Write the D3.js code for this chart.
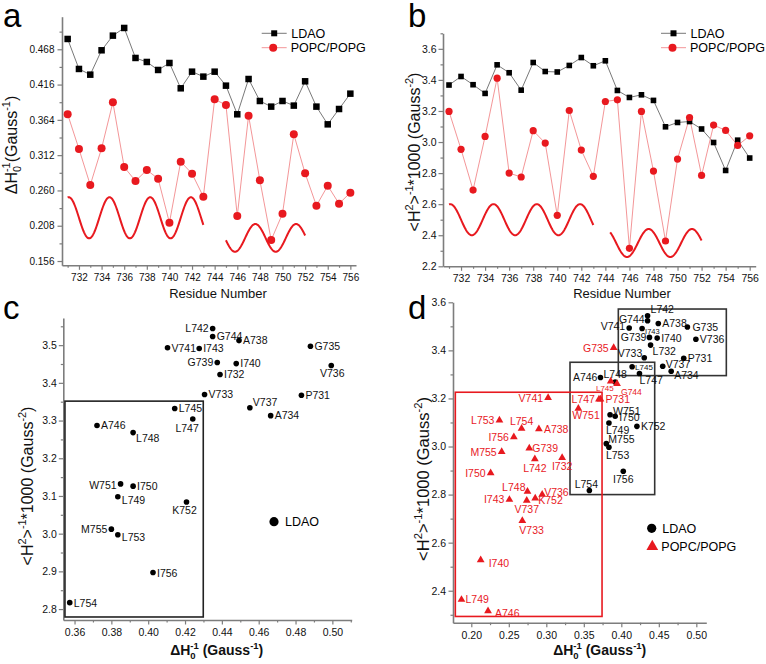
<!DOCTYPE html>
<html><head><meta charset="utf-8">
<script src="https://cdn.jsdelivr.net/npm/d3@7"></script>
<style>
body{margin:0;background:#fff}
svg{display:block;font-family:"Liberation Sans",Arial,Helvetica,sans-serif}
</style></head><body>
<svg id="fig" width="766" height="664"></svg>
<script>
// ---------------- data ----------------
const residues = [731,732,733,734,735,736,737,738,739,740,741,742,743,744,745,746,747,748,749,750,751,752,753,754,755,756];
const names = ["P731","I732","V733","A734","G735","V736","V737","A738","G739","I740","V741","L742","I743","G744","L745","A746","L747","L748","L749","I750","W751","K752","L753","L754","M755","I756"];
// ΔH0^-1 (Gauss^-1)
const ldaoDH = [0.4832,0.4390,0.4306,0.4665,0.4881,0.4994,0.4552,0.4493,0.4375,0.4478,0.4105,0.4350,0.4277,0.4350,0.4144,0.3722,0.4242,0.3918,0.3835,0.3918,0.3850,0.4208,0.3835,0.3574,0.3800,0.4026];
const popcDH = [0.3722,0.3211,0.2680,0.3220,0.3898,0.2945,0.2739,0.2901,0.2773,0.2125,0.3024,0.2847,0.2508,0.3943,0.3859,0.2223,0.3702,0.2749,0.1869,0.2258,0.3427,0.2852,0.2375,0.2670,0.2405,0.2567];
// <H2>^-1 * 1000 (Gauss^-2)
const ldaoH2 = [3.367,3.422,3.369,3.313,3.497,3.446,3.334,3.512,3.454,3.451,3.493,3.544,3.491,3.523,3.332,3.287,3.304,3.268,3.098,3.126,3.132,3.084,2.997,2.817,3.012,2.897];
const popcH2 = [3.197,2.953,2.691,3.036,3.411,2.800,2.775,3.073,2.993,2.528,3.203,2.948,2.779,3.261,3.272,2.316,3.197,2.813,2.363,2.890,3.158,2.785,3.109,3.075,2.978,3.040];
// helical periodicity curves (period 3.6 residues): [from, to, centre, amplitude, peak position]
const helixA = [[731,743,0.2197,0.0303,731.1],[745,752,0.1901,0.0204,747.6]];
const helixB = [[731,743,2.50,0.10,731.1],[744.4,752,2.35,0.09,747.6]];
const helixPeriod = 3.6;
// tick values
const ticksAy = [0.156,0.208,0.260,0.312,0.364,0.416,0.468];
const minorAy = [0.182,0.234,0.286,0.338,0.390,0.442,0.494];
const ticksRes = [732,734,736,738,740,742,744,746,748,750,752,754,756];
const minorRes = [731,733,735,737,739,741,743,745,747,749,751,753,755];
const ticksBy = [2.2,2.4,2.6,2.8,3.0,3.2,3.4,3.6];
const minorBy = [2.3,2.5,2.7,2.9,3.1,3.3,3.5,3.7];
const ticksCx = [0.36,0.38,0.40,0.42,0.44,0.46,0.48,0.50];
const minorCx = [0.37,0.39,0.41,0.43,0.45,0.47,0.49,0.51];
const ticksCy = [2.8,2.9,3.0,3.1,3.2,3.3,3.4,3.5];
const minorCy = [2.85,2.95,3.05,3.15,3.25,3.35,3.45,3.55];
const ticksDx = [0.20,0.25,0.30,0.35,0.40,0.45,0.50];
const minorDx = [0.225,0.275,0.325,0.375,0.425,0.475];
const ticksDy = [2.4,2.6,2.8,3.0,3.2,3.4,3.6];
const minorDy = [2.3,2.5,2.7,2.9,3.1,3.3,3.5];
// grouping boxes [x0,x1,y0,y1] in data units
const boxC = [[0.3548,0.4299,2.779,3.3515]];
const boxDblack = [[0.396,0.540,3.295,3.572],[0.3316,0.4445,2.800,3.3505]];
const boxDred = [[0.1787,0.3743,2.293,3.2258]];
const omitRedD = ["A734"];
const labelTextD = {I732:"L732"};

// ---------------- label placement (layout) ----------------
const lpC = {P731:['start',4,0],I732:['start',4,0],V733:['start',4,0],A734:['start',4,0],G735:['start',4,0],
 V736:['middle',1,8],V737:['start',3,-6],A738:['start',4,0],G739:['end',-4,0],I740:['start',4,0],V741:['start',4,0],
 L742:['end',-4,0],I743:['start',4,0],G744:['start',4,0],L745:['start',4,0],A746:['start',4,0],L747:['end',6,9],
 L748:['start',3,6],L749:['start',4,4],I750:['start',4,0],W751:['end',-4,1],K752:['middle',-2,8],L753:['start',4,2],
 L754:['start',4,1],M755:['end',-4,0],I756:['start',4,1]};
const lpDk = {L742:['start',3,-7],G744:['end',-3,-2],V741:['end',-4,-2],I743:['start',3,3,7.5],A738:['start',4,0],
 G735:['start',5,0],G739:['end',-3,0],I740:['start',4,0],V736:['start',4,0],V733:['end',-2,-5],I732:['start',2,6],
 P731:['start',4,0],L745:['start',3,0,8],V737:['start',3,-2],A734:['start',3,4],L747:['start',0,7],A746:['end',-3,0],
 L748:['middle',0,-8],W751:['start',3,-4],L750:['start',4,1],L749:['start',-3,7],K752:['start',4,0],M755:['start',2,-4],
 L753:['start',-3,8],I756:['middle',0,8],L754:['middle',-3,-6],I750:['start',4,1]};
const lpDr = {G735:['end',-5,0],L745:['end',3,7,8],G744:['start',4,8,8.5],L747:['end',-4,0],P731:['start',5,0],
 W751:['start',-6,7],V741:['end',-5,0],L753:['end',-5,0],L754:['middle',0,-7],A738:['start',5,0],I756:['end',-5,0],
 G739:['start',3,0],M755:['end',-5,0],L742:['middle',0,9],I732:['middle',0,8],I750:['end',-5,0],L748:['end',-2,-4],
 V736:['start',2,-2],I743:['end',-5,0],V737:['middle',0,9],K752:['start',3,2],V733:['start',-3,9],I740:['start',8,3],
 L749:['start',4,0],A746:['start',7,2],A734:['start',4,0]};

// ---------------- helpers ----------------
const svg = d3.select('#fig');
const AX = '#7d7d7d', RED = '#e8191f', RED_LINE = '#f28a8c', BLK_LINE = '#555';
const FONT = '"Liberation Sans",Arial,Helvetica,sans-serif';

function styleAxis(sel, fs){
  sel.attr('font-family', FONT).attr('font-size', fs);
  sel.select('.domain').attr('stroke', AX).attr('stroke-width', 1.6);
  sel.selectAll('.tick line').attr('stroke', AX).attr('stroke-width', 1.2);
  sel.selectAll('.tick text').attr('fill', '#111');
}
function drawAxes(x, y, o){
  const g = svg.append('g');
  const yb = y.range()[0], xl = x.range()[0];
  g.append('g').attr('transform', `translate(0,${yb})`)
   .call(d3.axisBottom(x).tickValues(o.xMinor).tickSize(2.5).tickSizeOuter(0).tickFormat(''))
   .call(s => { styleAxis(s, o.fs); s.select('.domain').remove(); });
  g.append('g').attr('transform', `translate(${xl},0)`)
   .call(d3.axisLeft(y).tickValues(o.yMinor).tickSize(2.5).tickSizeOuter(0).tickFormat(''))
   .call(s => { styleAxis(s, o.fs); s.select('.domain').remove(); });
  g.append('g').attr('transform', `translate(0,${yb})`)
   .call(d3.axisBottom(x).tickValues(o.xTicks).tickSize(4.5).tickSizeOuter(0).tickPadding(o.xPad).tickFormat(o.xFmt))
   .call(s => styleAxis(s, o.fs));
  g.append('g').attr('transform', `translate(${xl},0)`)
   .call(d3.axisLeft(y).tickValues(o.yTicks).tickSize(4.5).tickSizeOuter(0).tickPadding(o.yPad).tickFormat(o.yFmt))
   .call(s => styleAxis(s, o.fs));
}
function rich(sel, parts, fs){
  let cur = 0;
  parts.forEach(p => {
    const target = p.s === 'sub' ? 0.28*fs : p.s === 'sup' ? -0.42*fs : 0;
    const ts = sel.append('tspan').text(p.t).attr('dy', (target - cur).toFixed(2))
      .attr('font-size', p.s ? fs*0.68 : fs);
    if (p.dx) ts.attr('dx', p.dx);
    cur = target;
  });
}
function yTitle(x, y, parts, fs, bold){
  const t = svg.append('text').attr('transform', `translate(${x},${y}) rotate(-90)`)
    .attr('text-anchor','middle').attr('font-size', fs).attr('fill','#111')
    .attr('font-weight', bold ? 'bold' : 'normal');
  rich(t, parts, fs);
}
function xTitle(x, y, parts, fs, bold){
  const t = svg.append('text').attr('x', x).attr('y', y).attr('text-anchor','middle')
    .attr('font-size', fs).attr('fill','#111').attr('font-weight', bold ? 'bold' : 'normal');
  rich(t, parts, fs);
}
function letter(x, y, s){
  svg.append('text').attr('x', x).attr('y', y).attr('font-size', 33).attr('fill','#000').text(s);
}
const dhParts = (sp, fs) => [{t:'ΔH'},{t:'0',s:'sub'},{t:'-1',s:'sup',dx:-fs*0.38},{t:(sp?' ':'')+'(Gauss'},{t:'-1',s:'sup'},{t:')'}];
const h2Parts = [{t:'<H'},{t:'2',s:'sup'},{t:'>'},{t:'-1',s:'sup'},{t:'*1000 (Gauss'},{t:'-2',s:'sup'},{t:')'}];

const rows = residues.map((r,i) => ({r, name:names[i], ldh:ldaoDH[i], lh2:ldaoH2[i], pdh:popcDH[i], ph2:popcH2[i]}));

function helixLine(x, y, h){
  const pts = d3.range(h[0], h[1] + 1e-9, 0.05).map(t => [t, h[2] + h[3]*Math.cos(2*Math.PI*(t - h[4])/helixPeriod)]);
  pts.push([h[1], h[2] + h[3]*Math.cos(2*Math.PI*(h[1] - h[4])/helixPeriod)]);
  svg.append('path').attr('d', d3.line().x(d=>x(d[0])).y(d=>y(d[1]))(pts))
    .attr('fill','none').attr('stroke', RED).attr('stroke-width', 2);
}
function seriesPanel(x, y, key, keyP, sq, cr){
  svg.append('path').attr('d', d3.line().x(d=>x(d.r)).y(d=>y(d[key]))(rows))
    .attr('fill','none').attr('stroke', BLK_LINE).attr('stroke-width', 0.8);
  svg.append('path').attr('d', d3.line().x(d=>x(d.r)).y(d=>y(d[keyP]))(rows))
    .attr('fill','none').attr('stroke', RED_LINE).attr('stroke-width', 0.9);
  svg.append('g').selectAll('rect').data(rows).join('rect')
    .attr('x', d=>x(d.r)-sq/2).attr('y', d=>y(d[key])-sq/2).attr('width', sq).attr('height', sq).attr('fill','#000');
  svg.append('g').selectAll('circle').data(rows).join('circle')
    .attr('cx', d=>x(d.r)).attr('cy', d=>y(d[keyP])).attr('r', cr).attr('fill', RED);
}
function lineLegend(x0, y0, sq, cr){
  svg.append('line').attr('x1',x0).attr('x2',x0+25).attr('y1',y0).attr('y2',y0).attr('stroke',BLK_LINE).attr('stroke-width',0.8);
  svg.append('rect').attr('x',x0+12.5-sq/2).attr('y',y0-sq/2).attr('width',sq).attr('height',sq).attr('fill','#000');
  svg.append('text').attr('x',x0+29.5).attr('y',y0).attr('dy','0.36em').attr('font-size',12.5).text('LDAO');
  const y1 = y0 + 14.4;
  svg.append('line').attr('x1',x0).attr('x2',x0+25).attr('y1',y1).attr('y2',y1).attr('stroke',RED_LINE).attr('stroke-width',0.9);
  svg.append('circle').attr('cx',x0+11.5).attr('cy',y1).attr('r',cr).attr('fill',RED);
  svg.append('text').attr('x',x0+29).attr('y',y1).attr('dy','0.36em').attr('font-size',12.5).text('POPC/POPG');
}
function pointLabels(x, y, data, kx, ky, pos, color, fsz, textMap){
  svg.append('g').selectAll('text').data(data).join('text')
    .attr('x', d => x(d[kx]) + (pos[d.name]||['start',4,0])[1])
    .attr('y', d => y(d[ky]) + (pos[d.name]||['start',4,0])[2])
    .attr('dy','0.36em')
    .attr('text-anchor', d => (pos[d.name]||['start'])[0])
    .attr('font-size', d => (pos[d.name]||[])[3] || fsz)
    .attr('fill', color)
    .text(d => (textMap && textMap[d.name]) || d.name);
}
function boxes(x, y, list, color){
  svg.append('g').selectAll('rect').data(list).join('rect')
    .attr('x', b=>x(b[0])).attr('y', b=>y(b[3]))
    .attr('width', b=>x(b[1])-x(b[0])).attr('height', b=>y(b[2])-y(b[3]))
    .attr('fill','none').attr('stroke', color).attr('stroke-width', 1.6);
}

// ---------------- panel a ----------------
const xa = d3.scaleLinear().domain([730.5, 756.5]).range([62, 356]);
const ya = d3.scaleLinear().domain([0.1497, 0.516]).range([265.3, 16.7]);
drawAxes(xa, ya, {xTicks:ticksRes, xMinor:minorRes, yTicks:ticksAy, yMinor:minorAy, xFmt:d3.format('d'), yFmt:d3.format('.3f'), fs:10, xPad:4, yPad:3});
helixA.forEach(h => helixLine(xa, ya, h));
seriesPanel(xa, ya, 'ldh', 'pdh', 6.5, 4);
lineLegend(261.7, 33.3, 6, 4);
yTitle(17, 145, dhParts(false, 16), 16);
xTitle(218, 298, [{t:'Residue Number'}], 13);
letter(3, 27, 'a');

// ---------------- panel b ----------------
const xb = d3.scaleLinear().domain([730.5, 756.5]).range([443, 755.7]);
const yb = d3.scaleLinear().domain([2.2, 3.7]).range([266.3, 33.3]);
drawAxes(xb, yb, {xTicks:ticksRes, xMinor:minorRes, yTicks:ticksBy, yMinor:minorBy, xFmt:d3.format('d'), yFmt:d3.format('.1f'), fs:10.5, xPad:4, yPad:2});
helixB.forEach(h => helixLine(xb, yb, h));
seriesPanel(xb, yb, 'lh2', 'ph2', 5.6, 3.6);
lineLegend(661, 33.3, 6, 4);
yTitle(420, 152, h2Parts, 16);
xTitle(622, 298, [{t:'Residue Number'}], 13);
letter(408, 27, 'b');

// ---------------- panel c ----------------
const xc = d3.scaleLinear().domain([0.3539, 0.5105]).range([63.3, 351.7]);
const yc = d3.scaleLinear().domain([2.771, 3.572]).range([620, 318]);
drawAxes(xc, yc, {xTicks:ticksCx, xMinor:minorCx, yTicks:ticksCy, yMinor:minorCy, xFmt:d3.format('.2f'), yFmt:d3.format('.1f'), fs:10.5, xPad:4, yPad:2});
boxes(xc, yc, boxC, '#222');
svg.append('g').selectAll('circle').data(rows).join('circle')
  .attr('cx', d=>xc(d.ldh)).attr('cy', d=>yc(d.lh2)).attr('r', 2.8).attr('fill','#000');
pointLabels(xc, yc, rows, 'ldh', 'lh2', lpC, '#111', 10.5);
svg.append('circle').attr('cx',274).attr('cy',521.7).attr('r',4.6).attr('fill','#000');
svg.append('text').attr('x',285).attr('y',521.7).attr('dy','0.36em').attr('font-size',12.5).text('LDAO');
yTitle(33, 486, h2Parts, 16);
xTitle(216.7, 655, dhParts(true, 14), 14, true);
letter(3, 319, 'c');

// ---------------- panel d ----------------
const xd = d3.scaleLinear().domain([0.1756, 0.5133]).range([453, 706.3]);
const yd = d3.scaleLinear().domain([2.267, 3.6]).range([622.7, 302.3]);
drawAxes(xd, yd, {xTicks:ticksDx, xMinor:minorDx, yTicks:ticksDy, yMinor:minorDy, xFmt:d3.format('.2f'), yFmt:d3.format('.1f'), fs:10.5, xPad:4, yPad:2.5});
boxes(xd, yd, boxDblack, '#333');
boxes(xd, yd, boxDred, RED);
const redRows = rows.filter(d => !omitRedD.includes(d.name));
svg.append('g').selectAll('circle').data(rows).join('circle')
  .attr('cx', d=>xd(d.ldh)).attr('cy', d=>yd(d.lh2)).attr('r', 2.8).attr('fill','#000');
svg.append('g').selectAll('path').data(redRows).join('path')
  .attr('transform', d=>`translate(${xd(d.pdh)},${yd(d.ph2)})`)
  .attr('d', d3.symbol(d3.symbolTriangle, 26)).attr('fill', RED);
pointLabels(xd, yd, rows, 'ldh', 'lh2', lpDk, '#111', 10.5, labelTextD);
pointLabels(xd, yd, redRows, 'pdh', 'ph2', lpDr, RED, 10.5);
svg.append('circle').attr('cx',651.7).attr('cy',528.3).attr('r',4.6).attr('fill','#000');
svg.append('text').attr('x',662.3).attr('y',528.3).attr('dy','0.36em').attr('font-size',12.5).text('LDAO');
svg.append('path').attr('transform','translate(652.3,546.5)').attr('d', d3.symbol(d3.symbolTriangle, 60)).attr('fill', RED);
svg.append('text').attr('x',661.3).attr('y',546).attr('dy','0.36em').attr('font-size',12.5).text('POPC/POPG');
yTitle(429, 479, h2Parts, 16.5);
xTitle(599.7, 655, dhParts(true, 14), 14, true);
letter(408, 319, 'd');
</script>
</body></html>
